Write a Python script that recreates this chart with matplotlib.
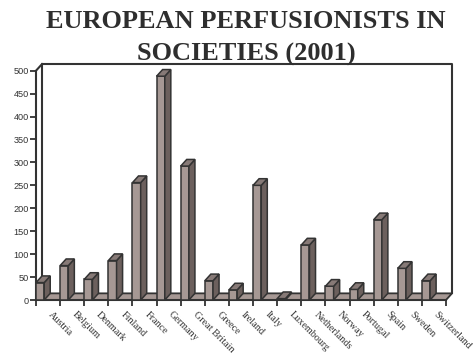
import matplotlib

matplotlib.use("Agg")
import matplotlib.pyplot as plt
from matplotlib.patches import Polygon

countries = ["Austria", "Belgium", "Denmark", "Finland", "France", "Germany",
             "Great Britain", "Greece", "Ireland", "Italy", "Luxembourg",
             "Netherlands", "Norway", "Portugal", "Spain", "Sweden", "Switzerland"]
members = [38, 75, 45, 86, 256, 488, 292, 42, 22, 250, 3, 120, 30, 23, 175, 69, 42]
yticks = [0, 50, 100, 150, 200, 250, 300, 350, 400, 450, 500]

FRONT = "#a69894"
SIDE = "#6c605d"
TOP = "#877a77"
EDGE = "#333333"
DX, DY = 0.25, 14.5   # depth offset in data units
W = 0.34

fig = plt.figure(figsize=(4.77, 3.54), dpi=100)
ax = fig.add_axes([36 / 477, 54 / 354, 410 / 477, 229.3 / 354])
ax.set_xlim(0, len(countries))
ax.set_ylim(0, 500)

n = len(countries)
# floor
ax.add_patch(Polygon([(0, 0), (n, 0), (n + DX, DY), (DX, DY)], closed=True,
                     facecolor=FRONT, edgecolor=EDGE, lw=1.3, zorder=1, clip_on=False))
# back walls
ax.plot([DX, DX, n + DX, n + DX], [DY, 500 + DY, 500 + DY, DY], color=EDGE, lw=1.5,
        zorder=1, clip_on=False)
ax.plot([0, DX], [500, 500 + DY], color=EDGE, lw=1.5, zorder=1, clip_on=False)

# bars
for i, v in enumerate(members):
    x0 = i
    ax.bar(x0, v, width=W, align="edge", color=FRONT, edgecolor=EDGE, lw=1.1,
           zorder=3, clip_on=False)
    ax.add_patch(Polygon([(x0 + W, 0), (x0 + W + DX, DY), (x0 + W + DX, v + DY), (x0 + W, v)],
                         closed=True, facecolor=SIDE, edgecolor=EDGE, lw=1.1, zorder=3,
                         clip_on=False))
    ax.add_patch(Polygon([(x0, v), (x0 + W, v), (x0 + W + DX, v + DY), (x0 + DX, v + DY)],
                         closed=True, facecolor=TOP, edgecolor=EDGE, lw=1.1, zorder=3,
                         clip_on=False))
    ax.text(i + 0.7, -22, countries[i], rotation=-45, rotation_mode="anchor",
            ha="left", va="top", fontsize=7.3, family="Liberation Serif", color="#333333")

for s in ["top", "right"]:
    ax.spines[s].set_visible(False)
ax.spines["left"].set_linewidth(1.5)
ax.spines["left"].set_color(EDGE)
ax.spines["bottom"].set_linewidth(1.5)
ax.spines["bottom"].set_color(EDGE)
ax.spines["left"].set_zorder(2)

ax.set_xticks(range(n + 1))
ax.set_xticklabels([])
ax.set_yticks(yticks)
ax.set_yticklabels([str(t) for t in yticks], family="Liberation Sans", fontsize=6.6,
                   color="#333333")
ax.tick_params(axis="both", length=4, width=1.3, color=EDGE, pad=1)

fig.text(0.516, 1 - 28.5 / 354, "EUROPEAN PERFUSIONISTS IN", ha="center", va="baseline",
         fontsize=19, fontweight="bold", family="Liberation Serif", color="#2e2e2e")
fig.text(0.516, 1 - 60.5 / 354, "SOCIETIES (2001)", ha="center", va="baseline",
         fontsize=19, fontweight="bold", family="Liberation Serif", color="#2e2e2e")

fig.savefig("out.png", dpi=100)
plt.close(fig)
